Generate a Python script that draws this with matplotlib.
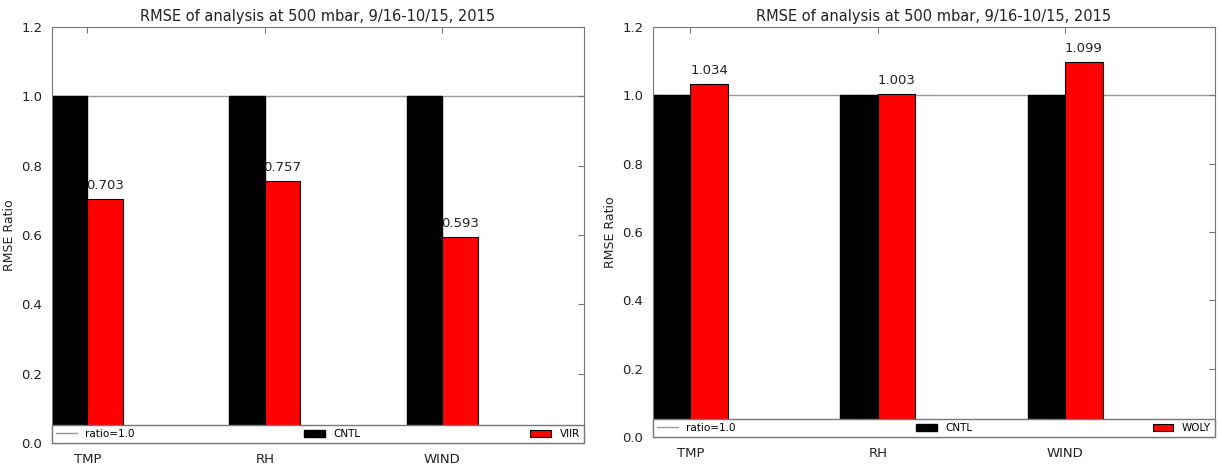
import numpy as np
import matplotlib
matplotlib.use("Agg")
import matplotlib.pyplot as plt

categories = ["TMP", "RH", "WIND"]
cntl = [1.0, 1.0, 1.0]
viir = [0.703, 0.757, 0.593]
woly = [1.034, 1.003, 1.099]
title = "RMSE of analysis at 500 mbar, 9/16-10/15, 2015"

plt.rcParams["font.family"] = "DejaVu Sans"


def panel(ax, exp, exp_name):
    ind = np.arange(len(categories))
    w = 0.2
    ax.axhline(1.0, color="#999999", lw=1, label="ratio=1.0", zorder=1)
    ax.bar(ind, cntl, w, align="edge", color="black", edgecolor="black",
           label="CNTL", zorder=2)
    bars = ax.bar(ind + w, exp, w, align="edge", color="red", edgecolor="black",
                  lw=0.8, label=exp_name, zorder=2)
    for b, v in zip(bars, exp):
        ax.annotate("%.3f" % v, (b.get_x() + b.get_width() / 2, v),
                    xytext=(0, 5), textcoords="offset points",
                    ha="center", va="bottom", fontsize=9.5, color="#222222")
    ax.set_xlim(0, 3)
    ax.set_ylim(0, 1.2)
    ax.set_xticks(ind + w)
    ax.set_xticklabels(categories, fontsize=9.5, color="#222222")
    ax.set_yticks(np.arange(0, 1.21, 0.2))
    ax.set_yticklabels(["%.1f" % t for t in np.arange(0, 1.21, 0.2)],
                       fontsize=9.5, color="#222222")
    ax.tick_params(direction="in", top=True, right=True, length=4,
                   color="#777777", pad=7)
    ax.set_ylabel("RMSE Ratio", fontsize=9, color="#222222")
    ax.set_title(title, fontsize=10.5, pad=4, color="#222222")
    for s in ax.spines.values():
        s.set_color("#777777")
    leg = ax.legend(loc="lower left", bbox_to_anchor=(0, 0, 1, 0.045),
                    mode="expand", ncol=3, fontsize=7.5, frameon=True,
                    fancybox=False, borderaxespad=0, handlelength=2.0,
                    handleheight=0.7, borderpad=0.4)
    leg.get_frame().set_edgecolor("#777777")
    leg.get_frame().set_linewidth(1)
    leg.get_frame().set_alpha(1)
    leg.set_zorder(5)


fig = plt.figure(figsize=(12.19, 4.65), dpi=100)
ax1 = fig.add_axes([52 / 1219, 1 - 443 / 465, 532 / 1219, 416 / 465])
ax2 = fig.add_axes([653 / 1219, 1 - 437 / 465, 562 / 1219, 410 / 465])
panel(ax1, viir, "VIIR")
panel(ax2, woly, "WOLY")
fig.savefig("out.png", dpi=100)
